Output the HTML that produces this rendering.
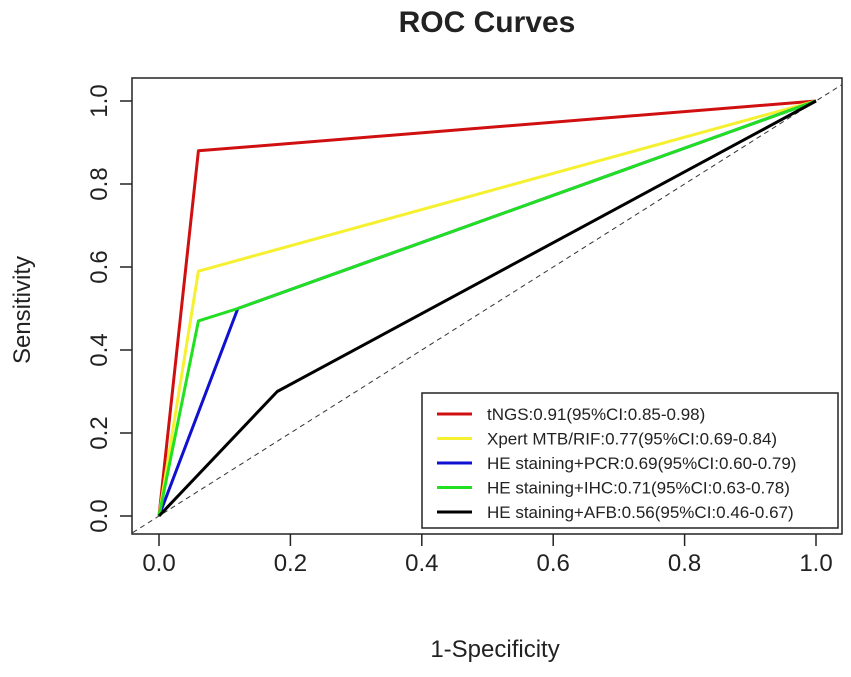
<!DOCTYPE html>
<html><head><meta charset="utf-8"><style>
body{margin:0;background:#fff}
svg text{font-family:"Liberation Sans",Arial,sans-serif;fill:#222}
</style></head><body>
<svg id="chart" width="851" height="672" xmlns="http://www.w3.org/2000/svg">
<text x="487" y="32" font-size="30" font-weight="bold" text-anchor="middle">ROC Curves</text>
<rect x="132" y="78" width="710" height="456" fill="none" stroke="#222" stroke-width="1.5"/>
<g id="axes"></g>
<g id="series"></g>
<text x="495" y="657" font-size="24" text-anchor="middle">1-Specificity</text>
<text transform="translate(30,310) rotate(-90)" font-size="24" text-anchor="middle">Sensitivity</text>
<g id="legend"></g>
</svg>
<script>
const ticks=[0,0.2,0.4,0.6,0.8,1.0];
const tickLabels=["0.0","0.2","0.4","0.6","0.8","1.0"];
const seriesNames=["tNGS:0.91(95%CI:0.85-0.98)","Xpert MTB/RIF:0.77(95%CI:0.69-0.84)","HE staining+PCR:0.69(95%CI:0.60-0.79)","HE staining+IHC:0.71(95%CI:0.63-0.78)","HE staining+AFB:0.56(95%CI:0.46-0.67)"];
const seriesColors=["#d01010","#f5f030","#1010d0","#20e020","#000"];
const fprTNGS=[0,0.06,1], tprTNGS=[0,0.88,1];
const fprXpert=[0,0.06,1], tprXpert=[0,0.59,1];
const fprPCR=[0,0.12,1], tprPCR=[0,0.50,1];
const fprIHC=[0,0.06,0.12,1], tprIHC=[0,0.47,0.50,1];
const fprAFB=[0,0.18,1], tprAFB=[0,0.30,1];
const fprs=[fprTNGS,fprXpert,fprPCR,fprIHC,fprAFB];
const tprs=[tprTNGS,tprXpert,tprPCR,tprIHC,tprAFB];
const X=v=>159+v*657, Y=v=>516-v*415;
const NS="http://www.w3.org/2000/svg";
function mk(t,a,p){const e=document.createElementNS(NS,t);for(const k in a)e.setAttribute(k,a[k]);p.appendChild(e);return e;}
const ax=document.getElementById('axes');
ticks.forEach((t,i)=>{
 let l=mk('line',{x1:X(t),x2:X(t),y1:534,y2:546,stroke:'#222','stroke-width':1.5},ax);
 
 
 let tx=mk('text',{x:X(t),y:571,'font-size':24,'text-anchor':'middle'},ax);tx.textContent=tickLabels[i];
 
 
 let l2=mk('line',{x1:120,x2:132,y1:Y(t),y2:Y(t),stroke:'#222','stroke-width':1.5},ax);
 
 
 let ty=mk('text',{transform:`translate(107,${Y(t)}) rotate(-90)`,'font-size':24,'text-anchor':'middle'},ax);ty.textContent=tickLabels[i];
 
 
});
const sg=document.getElementById('series');
let d=mk('line',{x1:X(-0.04),y1:Y(-0.04),x2:X(1.04),y2:Y(1.04),stroke:'#333','stroke-width':1,'stroke-dasharray':'5,4'},sg);


[0,1,2,3,4].forEach(i=>{
 const pts=fprs[i].map((f,j)=>X(f)+','+Y(tprs[i][j])).join(' ');
 let p=mk('polyline',{points:pts,fill:'none',stroke:seriesColors[i],'stroke-width':3,'stroke-linejoin':'round'},sg);
 
 
});
const lg=document.getElementById('legend');
mk('rect',{x:422,y:393,width:416,height:135,fill:'#fff',stroke:'#222','stroke-width':1.5},lg);
seriesNames.forEach((n,i)=>{
 const y=414+i*24.5;
 let l=mk('line',{x1:437,x2:472,y1:y,y2:y,stroke:seriesColors[i],'stroke-width':3},lg);
 
 
 let t=mk('text',{x:487,y:y+6,'font-size':17},lg);t.textContent=n;
 
 
});
</script>
</body></html>
